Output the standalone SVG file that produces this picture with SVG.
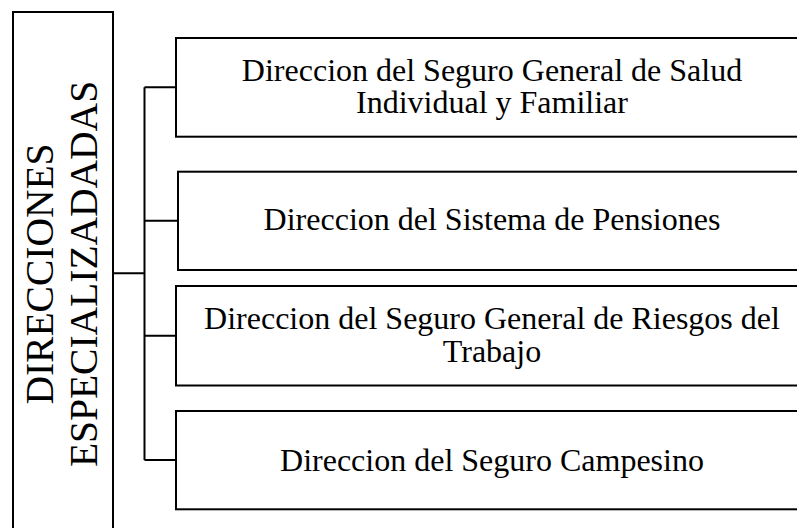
<svg xmlns="http://www.w3.org/2000/svg" width="797" height="528" viewBox="0 0 797 528">
<style>
.box{fill:#fff;stroke:#000;stroke-width:2}
.conn{fill:none;stroke:#000;stroke-width:2}
.t{font-family:"Liberation Serif","Times New Roman",serif;font-size:32px;fill:#000;text-anchor:middle}
.v{font-family:"Liberation Serif","Times New Roman",serif;font-size:39.5px;fill:#000;text-anchor:middle}
</style>
<rect width="797" height="528" fill="#fff"/>
<g id="connectors">
<path class="conn" d="M113 273.3H144.5M144.5 87.3V460M144.5 87.3H176M144.5 220.8H178M144.5 335.8H176M144.5 460H176"/>
</g>
<g id="root">
<rect class="box" x="13" y="12" width="100" height="530"/>
<text class="v" transform="translate(53,274) rotate(-90)">DIRECCIONES</text>
<text class="v" transform="translate(97,274) rotate(-90)">ESPECIALIZADADAS</text>
</g>
<g id="n1">
<rect class="box" x="176" y="38" width="640" height="98.7"/>
<text class="t" x="492" y="80.7">Direccion del Seguro General de Salud</text>
<text class="t" x="492" y="113.2">Individual y Familiar</text>
</g>
<g id="n2">
<rect class="box" x="178" y="171.7" width="640" height="98.3"/>
<text class="t" x="492" y="230">Direccion del Sistema de Pensiones</text>
</g>
<g id="n3">
<rect class="box" x="176" y="286" width="640" height="99.5"/>
<text class="t" x="492" y="329.3">Direccion del Seguro General de Riesgos del</text>
<text class="t" x="492" y="361.7">Trabajo</text>
</g>
<g id="n4">
<rect class="box" x="176" y="411" width="640" height="98.3"/>
<text class="t" x="492" y="470.7">Direccion del Seguro Campesino</text>
</g>
</svg>
